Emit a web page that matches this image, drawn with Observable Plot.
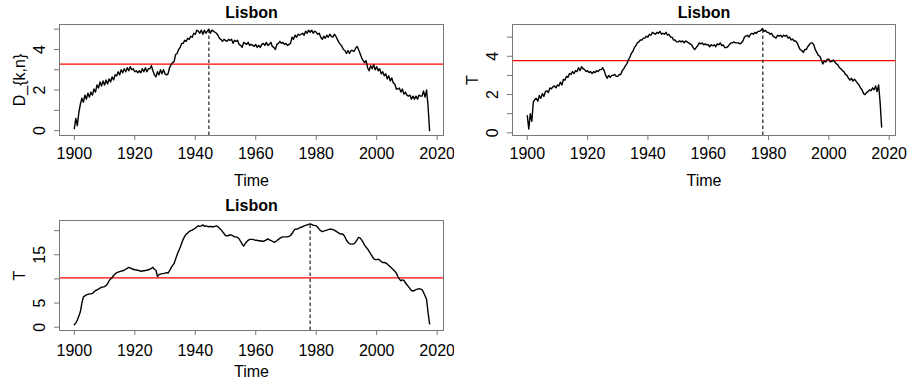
<!DOCTYPE html>
<html><head><meta charset="utf-8">
<script src="https://cdn.jsdelivr.net/npm/d3@7"></script>
<script src="https://cdn.jsdelivr.net/npm/@observablehq/plot@0.6"></script>
<style>
body{margin:0;background:#fff;}
#wrap{position:relative;width:909px;height:381px;overflow:hidden;font-family:"Liberation Sans",Arial,sans-serif;background:#fff;}
.panel{position:absolute;}
</style></head><body><div id="wrap"></div>
<script>
// time base: half-year steps from 1900
const startYear = 1900, stepYears = 0.5;
const title = "Lisbon";
const xLabel = "Time";
const xTicks = [1900, 1920, 1940, 1960, 1980, 2000, 2020];

// Panel 1: D_{k,n}
const dknValues = [
  0.1, 0.6, 0.25, 0.9, 1.3, 1.6, 1.4, 1.75, 1.55, 1.85, 1.65, 1.9, 1.75, 2.05, 1.9, 2.25, 2.1, 2.4, 2.2, 2.45,
  2.25, 2.5, 2.3, 2.55, 2.4, 2.65, 2.5, 2.75, 2.7, 2.9, 2.75, 3.0, 2.85, 3.05, 2.9, 3.1, 2.95, 3.15, 3.0, 3.05,
  2.9, 2.95, 2.85, 2.95, 2.85, 3.05, 2.9, 3.1, 2.9, 3.05, 3.05, 3.2, 2.95, 2.75, 2.65, 2.9, 2.75, 3.0, 2.8, 3.0,
  2.8, 2.75, 2.8, 3.1, 3.25, 3.35, 3.4, 3.75, 3.8, 4.0, 4.1, 4.3, 4.3, 4.45, 4.4, 4.55, 4.5, 4.65, 4.6, 4.8,
  4.75, 4.95, 4.9, 4.8, 4.95, 4.75, 4.95, 4.8, 4.9, 5.0, 4.8, 4.95, 4.9, 4.85, 4.8, 4.7, 4.55, 4.5, 4.4, 4.5,
  4.45, 4.4, 4.5, 4.45, 4.5, 4.3, 4.45, 4.4, 4.45, 4.25, 4.2, 4.1, 4.35, 4.3, 4.25, 4.35, 4.2, 4.25, 4.2, 4.15,
  4.25, 4.1, 4.2, 4.1, 4.25, 4.3, 4.2, 4.35, 4.2, 4.25, 4.35, 4.15, 4.1, 4.0, 4.25, 4.3, 4.4, 4.3, 4.35, 4.25,
  4.3, 4.2, 4.25, 4.3, 4.6, 4.5, 4.7, 4.6, 4.75, 4.7, 4.75, 4.8, 4.7, 4.9, 4.8, 4.95, 4.85, 4.95, 4.8, 4.9,
  4.85, 4.75, 4.8, 4.6, 4.5, 4.65, 4.55, 4.7, 4.6, 4.75, 4.65, 4.6, 4.75, 4.65, 4.5, 4.35, 4.25, 4.15, 4.0, 3.95,
  3.8, 3.95, 3.8, 3.95, 3.95, 3.9, 4.05, 4.15, 4.0, 3.8, 3.6, 3.45, 3.35, 3.45, 3.1, 2.95, 3.2, 3.05, 3.25, 3.0,
  3.15, 2.95, 3.05, 2.8, 2.9, 2.7, 2.8, 2.55, 2.7, 2.45, 2.6, 2.35, 2.3, 2.05, 2.05, 2.1, 1.9, 2.05, 1.8, 1.9,
  1.75, 1.7, 1.75, 1.55, 1.7, 1.55, 1.7, 1.55, 1.75, 1.7, 1.7, 1.95, 1.65, 2.0, 1.2, 0.0
];
// Panel 2: T
const tValues = [
  0.9, 0.2, 1.0, 0.6, 1.6, 1.75, 1.8, 1.65, 1.95, 1.8, 2.05, 1.9, 2.15, 2.2, 2.1, 2.35, 2.3, 2.4, 2.45, 2.35,
  2.5, 2.45, 2.65, 2.5, 2.8, 2.75, 2.95, 2.9, 3.1, 3.05, 3.2, 3.1, 3.25, 3.2, 3.4, 3.25, 3.45, 3.35, 3.3, 3.2,
  3.25, 3.15, 3.2, 3.1, 3.2, 3.15, 3.25, 3.2, 3.3, 3.3, 3.4, 3.25, 3.0, 2.85, 3.0, 2.9, 3.0, 3.0, 3.05, 2.95,
  2.95, 3.05, 3.05, 3.25, 3.35, 3.5, 3.6, 3.8, 3.95, 4.15, 4.25, 4.45, 4.55, 4.7, 4.75, 4.85, 4.85, 4.95, 4.95, 5.05,
  5.0, 5.15, 5.1, 5.25, 5.2, 5.15, 5.25, 5.2, 5.3, 5.15, 5.2, 5.15, 5.25, 5.1, 5.15, 5.0, 5.0, 4.85, 4.85, 4.75,
  4.75, 4.8, 4.75, 4.8, 4.7, 4.8, 4.75, 4.7, 4.65, 4.6, 4.45, 4.35, 4.45, 4.55, 4.7, 4.65, 4.7, 4.6, 4.65, 4.6,
  4.6, 4.5, 4.6, 4.55, 4.6, 4.5, 4.65, 4.6, 4.7, 4.55, 4.6, 4.45, 4.45, 4.5, 4.6, 4.7, 4.7, 4.75, 4.7, 4.7,
  4.7, 4.65, 4.7, 4.8, 5.0, 5.05, 5.1, 5.0, 5.15, 5.2, 5.15, 5.25, 5.2, 5.3, 5.3, 5.35, 5.45, 5.3, 5.35, 5.25,
  5.25, 5.15, 5.2, 5.05, 5.0, 4.95, 5.1, 5.05, 5.1, 5.0, 5.1, 5.05, 5.1, 4.95, 5.0, 4.85, 4.9, 4.8, 4.8, 4.7,
  4.5, 4.35, 4.3, 4.2, 4.35, 4.35, 4.5, 4.6, 4.7, 4.7, 4.6, 4.35, 4.2, 4.05, 4.0, 3.8, 3.6, 3.75, 3.7, 3.85,
  3.85, 3.7, 3.75, 3.8, 3.7, 3.6, 3.55, 3.4, 3.35, 3.25, 3.2, 3.05, 3.0, 2.85, 2.75, 2.85, 2.7, 2.8, 2.7, 2.6,
  2.5, 2.35, 2.25, 2.05, 2.0, 2.1, 2.15, 2.25, 2.2, 2.35, 2.25, 2.45, 2.15, 2.5, 1.6, 0.3
];
// Panel 3: T (larger scale)
const tBigValues = [
  0.5, 0.9, 1.5, 2.3, 3.2, 5.0, 6.3, 6.5, 6.7, 6.8, 6.9, 6.9, 7.0, 7.3, 7.6, 7.7, 7.9, 8.1, 8.3, 8.3,
  8.4, 8.6, 9.0, 9.6, 10.0, 10.3, 10.7, 11.0, 11.3, 11.4, 11.5, 11.6, 11.7, 11.8, 12.0, 12.2, 12.4, 12.3, 12.1, 12.0,
  11.9, 11.85, 11.8, 11.7, 11.6, 11.65, 11.7, 11.75, 11.8, 11.9, 12.0, 12.2, 12.4, 12.0, 11.8, 10.5, 10.9, 11.0, 11.1, 11.1,
  11.2, 11.3, 11.2, 11.7, 12.3, 12.8, 13.2, 14.1, 15.0, 15.8, 16.5, 17.4, 18.2, 18.8, 19.3, 19.5, 19.8, 20.0, 20.1, 20.3,
  20.5, 20.8, 21.0, 20.9, 21.0, 21.2, 20.9, 21.0, 20.9, 20.8, 20.9, 20.8, 20.8, 20.9, 21.0, 20.8, 20.5, 20.2, 19.8, 19.4,
  19.0, 18.9, 19.0, 19.1, 19.1, 18.9, 18.7, 18.7, 18.6, 18.3, 17.8, 17.2, 16.8, 17.3, 17.7, 18.0, 18.2, 18.2, 18.2, 18.1,
  18.0, 18.0, 17.9, 17.9, 17.8, 17.8, 17.9, 18.1, 18.3, 18.1, 18.0, 17.8, 17.6, 17.7, 17.9, 18.2, 18.4, 18.6, 18.7, 18.7,
  18.7, 18.7, 18.8, 19.0, 19.4, 19.9, 20.3, 20.3, 20.4, 20.6, 20.7, 20.8, 21.0, 21.1, 21.2, 21.3, 21.4, 21.3, 21.1, 21.1,
  21.0, 20.7, 20.3, 20.0, 19.8, 19.9, 20.0, 20.1, 20.2, 20.3, 20.3, 20.2, 20.1, 19.9, 19.7, 19.5, 19.3, 19.3, 19.2, 18.7,
  18.0, 17.6, 17.3, 17.2, 17.2, 17.3, 17.6, 18.1, 18.6, 18.5, 18.1, 17.6, 17.0, 16.6, 16.2, 15.7, 15.2, 14.7, 14.2, 14.0,
  14.0, 14.1, 13.9, 13.6, 13.4, 13.4, 13.3, 13.1, 12.8, 12.5, 12.2, 11.9, 11.6, 11.2, 10.5, 10.0, 9.6, 9.8, 9.7, 9.2,
  8.8, 8.4, 8.0, 7.6, 7.5, 7.6, 7.8, 7.9, 8.0, 7.9, 7.8, 7.2, 6.5, 5.8, 3.0, 0.7
];

const yTitles = ["D_{k,n}", "T", "T"];
const thresholds = [3.28, 3.77, 10.2];
const changeYears = [1944.5, 1978.1, 1978.0];
const changeValues = [5.0, 5.45, 21.4];
const yTicksSets = [[0, 1, 2, 3, 4, 5], [0, 1, 2, 3, 4, 5], [0, 5, 10, 15, 20]];
const yLabelSets = [[0, 2, 4], [0, 2, 4], [0, 5, 15]];

const font = '"Liberation Sans", Arial, sans-serif';
const xDomain = [1895.1, 2022.1];

function panel(cfg) {
  const data = cfg.values.map((v, i) => ({t: startYear + i * stepYears, v}));
  const cp = [{x: cfg.cpYear, y1: cfg.yDomain[0], y2: cfg.cpValue}];
  return Plot.plot({
    width: cfg.width, height: cfg.height,
    marginLeft: cfg.mL, marginRight: cfg.mR, marginTop: cfg.mT, marginBottom: cfg.mB,
    x: {domain: xDomain},
    y: {domain: cfg.yDomain},
    style: {fontFamily: font, fontSize: "16px", background: "transparent", color: "#000"},
    marks: [
      Plot.ruleY([cfg.threshold], {stroke: "#ff0000", strokeWidth: 1.2}),
      Plot.ruleX(cp, {x: "x", y1: "y1", y2: "y2", stroke: "#333", strokeWidth: 1.3, strokeDasharray: "3.5,2.5"}),
      Plot.line(data, {x: "t", y: "v", stroke: "#000", strokeWidth: 1.4}),
      Plot.frame({stroke: "#777", strokeWidth: 1}),
      Plot.axisX(xTicks, {tickSize: 5, stroke: "#777", tickFormat: () => "", label: null}),
      Plot.axisY(cfg.yTicks, {tickSize: 5, stroke: "#777", tickFormat: () => "", label: null}),
      Plot.text(xTicks, {x: d => d, text: d => String(d), frameAnchor: "bottom", lineAnchor: "middle", dy: cfg.tickDy, fontSize: 16, fill: "#000"}),
      Plot.text(cfg.yLabels, {y: d => d, text: d => String(d), frameAnchor: "left", dx: -20, rotate: -90, textAnchor: "middle", lineAnchor: "middle", fontSize: 16, fill: "#000"}),
      Plot.text([title], {frameAnchor: "top", lineAnchor: "middle", dy: cfg.titleDy, fontWeight: "bold", fontSize: 16, fill: "#000"}),
      Plot.text([xLabel], {frameAnchor: "bottom", lineAnchor: "middle", dy: cfg.xLabDy, fontSize: 16, fill: "#000"}),
      Plot.text([cfg.yTitle], {frameAnchor: "left", dx: -40, rotate: -90, textAnchor: "middle", lineAnchor: "middle", fontSize: 16, fill: "#000"})
    ]
  });
}

const wrap = document.getElementById("wrap");
const configs = [
  {values: dknValues, left: 0, top: 0, width: 454, height: 190, mL: 59, mR: 11, mT: 24, mB: 55,
   yDomain: [-0.24, 5.23], titleDy: -11.5, tickDy: 18, xLabDy: 45},
  {values: tValues, left: 453, top: 0, width: 454, height: 190, mL: 59, mR: 12, mT: 24, mB: 55,
   yDomain: [-0.14, 5.66], titleDy: -11.5, tickDy: 18, xLabDy: 45},
  {values: tBigValues, left: 0, top: 190, width: 454, height: 191, mL: 59, mR: 11, mT: 30, mB: 51,
   yDomain: [-0.68, 22.1], titleDy: -15, tickDy: 20, xLabDy: 41}
];
configs.forEach((c, i) => {
  c.yTitle = yTitles[i];
  c.threshold = thresholds[i];
  c.cpYear = changeYears[i];
  c.cpValue = changeValues[i];
  c.yTicks = yTicksSets[i];
  c.yLabels = yLabelSets[i];
  const div = document.createElement("div");
  div.className = "panel";
  div.style.left = c.left + "px";
  div.style.top = c.top + "px";
  div.appendChild(panel(c));
  wrap.appendChild(div);
});
</script>
</body></html>
